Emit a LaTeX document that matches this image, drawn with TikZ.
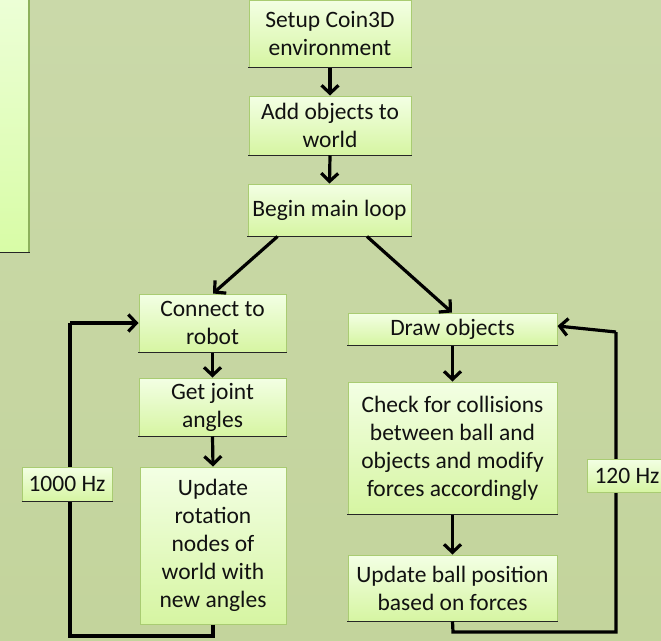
\documentclass[tikz,border=0pt]{standalone}
\usepackage{fontspec}
\setmainfont{Carlito}
\usetikzlibrary{arrows.meta}
\definecolor{bgtop}{HTML}{CAD9A9}
\definecolor{bgbot}{HTML}{C3D49C}
\definecolor{boxtop}{HTML}{F3FFE4}
\definecolor{boxbot}{HTML}{D6F5A2}
\definecolor{boxline}{HTML}{A9CC72}
\definecolor{paneltop}{HTML}{ECFFD6}
\definecolor{panelbot}{HTML}{D8FCA6}
\definecolor{panelline}{HTML}{8DB15C}
\definecolor{txt}{HTML}{111111}
\tikzset{
  stepbox/.style={draw=boxline, line width=1pt, top color=boxtop, bottom color=boxbot,
    inner sep=0pt, align=center, text=txt, font=\fontsize{23.5}{28}\selectfont},
  botline/.style={draw=black!85, line width=1.3pt},
  flow/.style={draw=black, line width=3.2pt, -{Straight Barb[length=8pt,width=17pt,line width=3.2pt]}},
  loopline/.style={draw=black, line width=3.2pt, line join=miter},
}
\begin{document}
\begin{tikzpicture}[x=1pt,y=-1pt]
\useasboundingbox (0,0) rectangle (661,640);
\shade[top color=bgtop, bottom color=bgbot] (0,0) rectangle (661,640);
% left panel
\shade[top color=paneltop, bottom color=panelbot] (0,0) rectangle (29,252);
\draw[panelline, line width=1.2pt] (29,0) -- (29,252);
\draw[black!85, line width=1.3pt] (0,252.5) -- (30,252.5);

% nodes
\node[stepbox, minimum width=162pt, minimum height=67pt] (setup) at (330,33.5) {Setup Coin3D\\environment};
\node[stepbox, minimum width=162pt, minimum height=59pt] (add) at (330,125.5) {Add objects to\\world};
\node[stepbox, minimum width=163pt, minimum height=52pt] (begin) at (329.5,210) {Begin main loop};
\node[stepbox, minimum width=147pt, minimum height=58pt] (connect) at (212.5,323) {Connect to\\robot};
\node[stepbox, minimum width=147pt, minimum height=58pt] (joint) at (212.5,407) {Get joint\\angles};
\node[stepbox, minimum width=146pt, minimum height=157pt] (update) at (213,545.5) {Update\\rotation\\nodes of\\world with\\new angles};
\node[stepbox, minimum width=209pt, minimum height=32pt] (drawobj) at (452.5,329) {Draw objects};
\node[stepbox, minimum width=209pt, minimum height=132pt] (check) at (452.5,448) {Check for collisions\\between ball and\\objects and modify\\forces accordingly};
\node[stepbox, minimum width=209pt, minimum height=66pt] (ball) at (452.5,588) {Update ball position\\based on forces};

% bottom shadow lines
\foreach \n in {setup,add,begin,connect,joint,drawobj,check,ball}
  \draw[botline] ([xshift=-0.5pt]\n.south west) -- ([xshift=0.5pt]\n.south east);

% flow arrows
\draw[flow] (setup.south) -- (add.north);
\draw[flow] (add.south) -- (begin.north);
\draw[flow] ([xshift=-52pt]begin.south) -- ([xshift=0.5pt]connect.north);
\draw[flow] ([xshift=37.5pt]begin.south) -- ([xshift=-0.5pt]drawobj.north);
\draw[flow] (connect.south) -- (joint.north);
\draw[flow] (joint.south) -- (update.north);
\draw[flow] (drawobj.south) -- (check.north);
\draw[flow] (check.south) -- (ball.north);

% loops
\coordinate (l1) at (213,636);
\coordinate (l2) at (70,636);
\coordinate (l3) at (70,323);
\draw[loopline] (update.south) -- (l1) -- (l2) -- (l3);
\draw[flow] (l3) -- (connect.west);
\coordinate (r1) at (453,632);
\coordinate (r2) at (616,632);
\coordinate (r3) at (616,332);
\draw[loopline] (ball.south) -- (r1) -- (r2) -- (r3);
\draw[flow] (r3) -- ([yshift=3pt]drawobj.east);

% rate labels
\node[stepbox, minimum width=90pt, minimum height=34pt] (hz1) at (67,484) {1000 Hz};
\node[stepbox, minimum width=80pt, minimum height=33pt] (hz2) at (627,475.5) {120 Hz};
\draw[botline] (hz1.south west) -- (hz1.south east);
\end{tikzpicture}
\end{document}
